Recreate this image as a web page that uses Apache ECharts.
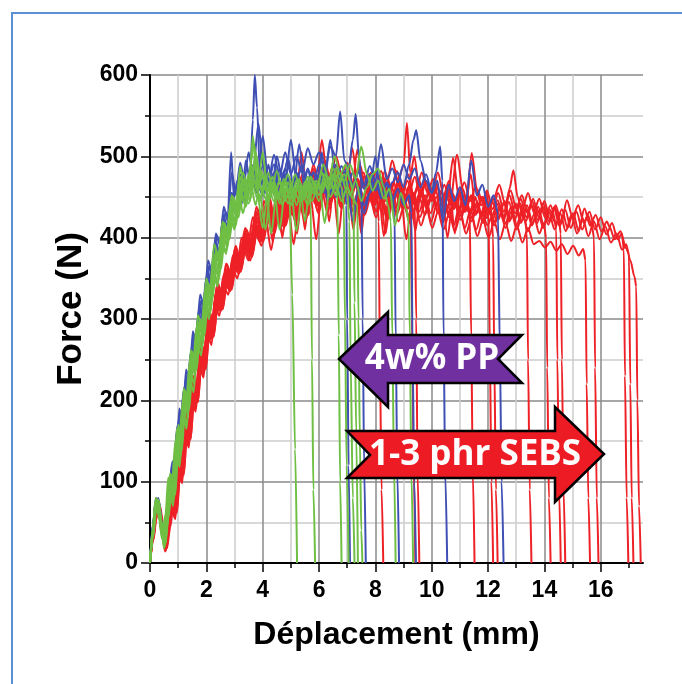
<!DOCTYPE html>
<html>
<head>
<meta charset="utf-8">
<script src="https://cdn.jsdelivr.net/npm/echarts@6/dist/echarts.min.js"></script>
<style>
html, body { margin: 0; background: #fff; }
#chart { width: 682px; height: 684px; }
</style>
</head>
<body>
<div id="chart"></div>
<script>
// tick positions
const xMinorTicks = [0, 1, 2, 3, 4, 5, 6, 7, 8, 9, 10, 11, 12, 13, 14, 15, 16, 17];
const xMajorTicks = [0, 2, 4, 6, 8, 10, 12, 14, 16];
const yMinorTicks = [0, 50, 100, 150, 200, 250, 300, 350, 400, 450, 500, 550, 600];
const yMajorTicks = [0, 100, 200, 300, 400, 500, 600];

// force (N) vs displacement (mm)
const redCurves = [
  [[0,0],[0.1,32],[0.2,60],[0.3,70],[0.42,42],[0.54,18],[0.66,40],[0.78,72],[0.9,60],[1.02,120],[1.14,105],[1.26,165],[1.38,150],[1.5,210],[1.62,195],[1.76,255],[1.9,240],[2.04,295],[2.18,280],[2.32,330],[2.46,318],[2.62,355],[2.78,342],[2.94,378],[3.1,362],[3.3,395],[3.5,380],[3.7,420],[3.9,400],[4.1,440],[4.3,415],[4.5,455],[4.7,400],[4.9,465],[5.1,440],[5.3,475],[5.5,410],[5.7,480],[5.9,455],[6.1,520],[6.3,470],[6.5,488],[6.7,462],[6.9,478],[7.1,450],[7.3,470],[7.5,405],[7.7,465],[7.9,440],[8.05,455],[8.12,420],[8.16,250],[8.22,90],[8.28,0]],
  [[0,0],[0.1,36],[0.22,66],[0.34,58],[0.46,28],[0.58,22],[0.7,58],[0.82,88],[0.94,75],[1.06,138],[1.18,122],[1.3,182],[1.42,168],[1.56,228],[1.68,212],[1.82,270],[1.96,255],[2.1,310],[2.24,296],[2.4,345],[2.56,330],[2.72,368],[2.88,352],[3.04,390],[3.2,372],[3.4,405],[3.6,388],[3.8,430],[4.0,408],[4.2,448],[4.4,420],[4.6,460],[4.8,432],[5.0,470],[5.2,445],[5.4,478],[5.6,455],[5.8,490],[6.0,465],[6.2,495],[6.4,472],[6.6,500],[6.8,478],[7.0,492],[7.2,468],[7.4,485],[7.6,460],[7.8,478],[8.0,455],[8.2,482],[8.4,465],[8.6,495],[8.8,470],[9.0,488],[9.12,541],[9.24,480],[9.3,300],[9.36,120],[9.42,0]],
  [[0,0],[0.1,30],[0.2,56],[0.3,64],[0.42,36],[0.54,14],[0.66,36],[0.78,66],[0.9,54],[1.02,112],[1.14,98],[1.26,155],[1.38,142],[1.5,200],[1.62,186],[1.76,242],[1.9,228],[2.04,282],[2.18,268],[2.32,315],[2.46,304],[2.62,340],[2.78,330],[2.94,362],[3.1,350],[3.3,388],[3.5,372],[3.7,410],[3.9,395],[4.1,425],[4.3,385],[4.5,430],[4.7,405],[4.9,440],[5.1,392],[5.3,445],[5.5,418],[5.7,450],[5.9,398],[6.1,458],[6.3,430],[6.5,462],[6.7,405],[6.9,470],[7.1,445],[7.3,478],[7.5,415],[7.7,470],[7.9,448],[8.1,465],[8.3,402],[8.5,458],[8.7,435],[8.9,452],[9.1,398],[9.3,448],[9.4,440],[9.45,300],[9.5,110],[9.56,0]],
  [[0,0],[0.1,30],[0.2,58],[0.3,72],[0.4,50],[0.52,20],[0.64,35],[0.76,68],[0.88,56],[1.0,115],[1.12,100],[1.24,158],[1.36,145],[1.48,205],[1.6,190],[1.74,248],[1.88,232],[2.02,288],[2.16,275],[2.3,322],[2.44,310],[2.6,350],[2.76,338],[2.92,372],[3.08,358],[3.25,400],[3.45,382],[3.65,425],[3.85,405],[4.05,445],[4.25,418],[4.45,438],[4.65,412],[4.85,450],[5.05,428],[5.25,462],[5.45,435],[5.65,470],[5.85,442],[6.05,475],[6.25,450],[6.45,482],[6.65,458],[6.85,475],[7.05,448],[7.25,468],[7.45,490],[7.65,462],[7.85,480],[8.05,455],[8.25,472],[8.45,448],[8.65,468],[8.85,442],[9.05,462],[9.25,438],[9.45,458],[9.65,480],[9.85,455],[10.05,472],[10.25,448],[10.45,465],[10.65,440],[10.9,502],[11.1,460],[11.25,445],[11.35,430],[11.4,280],[11.46,110],[11.52,0]],
  [[0,0],[0.12,34],[0.24,64],[0.36,62],[0.48,30],[0.6,28],[0.72,62],[0.84,80],[0.96,70],[1.08,132],[1.2,118],[1.32,175],[1.44,160],[1.58,222],[1.7,208],[1.84,262],[1.98,248],[2.12,302],[2.26,290],[2.42,338],[2.58,325],[2.74,362],[2.9,348],[3.06,385],[3.22,370],[3.42,410],[3.62,392],[3.82,435],[4.02,412],[4.22,452],[4.42,425],[4.62,462],[4.82,435],[5.02,455],[5.22,405],[5.42,468],[5.62,445],[5.82,478],[6.02,452],[6.22,485],[6.42,460],[6.62,478],[6.82,452],[7.02,470],[7.22,410],[7.42,465],[7.62,440],[7.82,462],[8.02,480],[8.22,455],[8.42,475],[8.62,450],[8.82,470],[9.02,445],[9.22,465],[9.42,408],[9.62,460],[9.82,438],[10.02,455],[10.22,480],[10.42,452],[10.62,470],[10.82,405],[11.02,462],[11.22,438],[11.42,504],[11.6,460],[11.8,445],[11.95,455],[12.02,430],[12.06,270],[12.12,100],[12.18,0]],
  [[0,0],[0.1,28],[0.2,55],[0.32,68],[0.44,45],[0.56,15],[0.68,45],[0.8,75],[0.92,62],[1.04,125],[1.16,110],[1.28,170],[1.4,155],[1.54,215],[1.66,200],[1.8,258],[1.94,244],[2.08,298],[2.22,284],[2.38,328],[2.54,315],[2.7,352],[2.86,340],[3.02,375],[3.18,362],[3.38,398],[3.58,380],[3.78,412],[3.98,395],[4.18,430],[4.38,408],[4.58,445],[4.78,420],[4.98,452],[5.18,428],[5.38,460],[5.58,435],[5.78,455],[5.98,430],[6.18,462],[6.38,440],[6.58,470],[6.78,445],[6.98,478],[7.18,455],[7.38,472],[7.58,448],[7.78,465],[7.98,440],[8.18,460],[8.38,435],[8.58,455],[8.78,430],[8.98,450],[9.18,428],[9.38,448],[9.58,425],[9.78,445],[9.98,420],[10.18,442],[10.38,418],[10.58,440],[10.78,415],[10.98,438],[11.18,412],[11.38,435],[11.58,410],[11.78,432],[11.98,415],[12.12,425],[12.18,400],[12.22,250],[12.28,90],[12.34,0]],
  [[0,0],[0.1,34],[0.2,62],[0.3,74],[0.42,48],[0.54,24],[0.66,52],[0.78,84],[0.9,70],[1.02,128],[1.14,112],[1.26,172],[1.38,158],[1.52,218],[1.64,204],[1.78,262],[1.92,248],[2.06,304],[2.2,290],[2.36,336],[2.52,322],[2.68,360],[2.84,346],[3.0,382],[3.16,368],[3.36,405],[3.56,388],[3.76,428],[3.96,405],[4.16,438],[4.36,395],[4.56,448],[4.76,422],[4.96,458],[5.16,432],[5.36,465],[5.56,440],[5.76,472],[5.96,448],[6.16,480],[6.36,420],[6.56,488],[6.76,462],[6.96,480],[7.16,455],[7.36,472],[7.56,450],[7.76,468],[7.96,445],[8.16,462],[8.36,405],[8.56,458],[8.76,482],[8.96,460],[9.16,478],[9.36,452],[9.56,470],[9.76,445],[9.96,462],[10.16,438],[10.36,458],[10.56,400],[10.76,452],[10.96,430],[11.16,450],[11.36,428],[11.56,448],[11.76,425],[11.96,445],[12.16,422],[12.36,442],[12.56,420],[12.76,460],[12.9,483],[13.05,450],[13.2,430],[13.32,420],[13.38,405],[13.42,250],[13.48,90],[13.54,0]],
  [[0,0],[0.12,30],[0.24,62],[0.36,66],[0.48,36],[0.6,20],[0.72,55],[0.84,78],[0.96,66],[1.08,125],[1.2,110],[1.32,168],[1.44,152],[1.58,212],[1.7,198],[1.84,255],[1.98,240],[2.12,292],[2.26,280],[2.42,325],[2.58,312],[2.74,350],[2.9,338],[3.06,372],[3.22,360],[3.42,392],[3.62,378],[3.82,415],[4.02,398],[4.22,432],[4.42,410],[4.62,440],[4.82,418],[5.02,448],[5.22,425],[5.42,455],[5.62,430],[5.82,462],[6.02,438],[6.22,470],[6.42,445],[6.62,478],[6.82,450],[7.02,468],[7.22,442],[7.42,460],[7.62,438],[7.82,455],[8.02,432],[8.22,450],[8.42,428],[8.62,445],[8.82,468],[9.02,445],[9.22,462],[9.42,440],[9.62,458],[9.82,435],[10.02,452],[10.22,430],[10.42,448],[10.62,425],[10.82,445],[11.02,422],[11.22,442],[11.42,420],[11.62,440],[11.82,418],[12.02,438],[12.22,415],[12.42,435],[12.62,412],[12.82,432],[13.02,410],[13.22,430],[13.42,408],[13.62,428],[13.82,405],[13.98,418],[14.06,400],[14.1,240],[14.16,80],[14.22,0]],
  [[0,0],[0.1,38],[0.2,64],[0.32,60],[0.44,32],[0.56,26],[0.68,62],[0.8,90],[0.92,78],[1.04,140],[1.16,124],[1.28,185],[1.4,170],[1.54,230],[1.66,216],[1.8,272],[1.94,258],[2.08,312],[2.22,298],[2.38,342],[2.54,330],[2.7,368],[2.86,354],[3.02,388],[3.18,375],[3.38,412],[3.58,395],[3.78,438],[3.98,415],[4.18,452],[4.38,428],[4.58,465],[4.78,438],[4.98,472],[5.18,445],[5.38,505],[5.58,452],[5.78,485],[5.98,460],[6.18,478],[6.38,452],[6.58,470],[6.78,448],[6.98,465],[7.18,510],[7.38,462],[7.58,480],[7.78,455],[7.98,472],[8.18,448],[8.38,468],[8.58,445],[8.78,462],[8.98,440],[9.18,458],[9.38,500],[9.58,452],[9.78,470],[9.98,445],[10.18,465],[10.38,440],[10.58,458],[10.78,435],[10.98,455],[11.18,432],[11.38,478],[11.58,430],[11.78,450],[11.98,428],[12.18,448],[12.38,425],[12.58,445],[12.78,422],[12.98,442],[13.18,420],[13.38,440],[13.58,418],[13.78,438],[13.98,415],[14.18,435],[14.36,420],[14.42,410],[14.46,250],[14.52,90],[14.58,0]],
  [[0,0],[0.1,26],[0.2,52],[0.3,66],[0.42,52],[0.54,22],[0.66,38],[0.78,70],[0.9,58],[1.02,118],[1.14,104],[1.26,162],[1.38,148],[1.52,208],[1.64,194],[1.78,250],[1.92,236],[2.06,290],[2.2,276],[2.36,322],[2.52,310],[2.68,346],[2.84,334],[3.0,368],[3.16,356],[3.36,388],[3.56,372],[3.76,408],[3.96,390],[4.16,425],[4.36,402],[4.56,435],[4.76,412],[4.96,442],[5.16,420],[5.36,450],[5.56,425],[5.76,458],[5.96,432],[6.16,465],[6.36,440],[6.56,472],[6.76,448],[6.96,480],[7.16,455],[7.36,508],[7.56,462],[7.76,478],[7.96,452],[8.16,470],[8.36,445],[8.56,465],[8.76,440],[8.96,460],[9.16,436],[9.36,455],[9.56,432],[9.76,452],[9.96,430],[10.16,450],[10.36,428],[10.56,448],[10.76,498],[10.96,450],[11.16,468],[11.36,445],[11.56,462],[11.76,440],[11.96,458],[12.16,435],[12.36,455],[12.56,432],[12.76,452],[12.96,430],[13.16,448],[13.36,425],[13.56,445],[13.76,422],[13.96,442],[14.16,420],[14.36,438],[14.52,422],[14.58,405],[14.62,250],[14.68,90],[14.74,0]],
  [[0,0],[0.12,36],[0.24,66],[0.36,60],[0.48,30],[0.6,24],[0.72,58],[0.84,86],[0.96,72],[1.08,135],[1.2,120],[1.32,178],[1.44,164],[1.58,224],[1.7,210],[1.84,266],[1.98,252],[2.12,305],[2.26,292],[2.42,335],[2.58,322],[2.74,358],[2.9,346],[3.06,380],[3.22,366],[3.42,402],[3.62,385],[3.82,420],[4.02,402],[4.22,435],[4.42,412],[4.62,445],[4.82,420],[5.02,450],[5.22,428],[5.42,458],[5.62,432],[5.82,462],[6.02,440],[6.22,470],[6.42,445],[6.62,462],[6.82,438],[7.02,455],[7.22,432],[7.42,452],[7.62,428],[7.82,448],[8.02,425],[8.22,445],[8.42,422],[8.62,442],[8.82,420],[9.02,440],[9.22,418],[9.42,438],[9.62,415],[9.82,435],[10.02,412],[10.22,432],[10.42,410],[10.62,430],[10.82,408],[11.02,428],[11.22,405],[11.42,425],[11.62,402],[11.82,422],[12.02,400],[12.22,420],[12.42,398],[12.62,418],[12.82,396],[13.02,415],[13.22,394],[13.42,412],[13.62,392],[13.82,396],[14.02,388],[14.22,395],[14.42,384],[14.62,392],[14.82,380],[15.02,390],[15.22,378],[15.38,386],[15.46,372],[15.5,220],[15.56,80],[15.62,0]],
  [[0,0],[0.1,32],[0.2,60],[0.3,70],[0.4,46],[0.52,20],[0.64,42],[0.76,76],[0.88,64],[1.0,124],[1.12,108],[1.24,168],[1.36,154],[1.5,214],[1.62,200],[1.76,256],[1.9,242],[2.04,296],[2.18,282],[2.34,330],[2.5,316],[2.66,354],[2.82,340],[2.98,376],[3.14,362],[3.34,398],[3.54,380],[3.74,418],[3.94,398],[4.14,432],[4.34,410],[4.54,445],[4.74,422],[4.94,455],[5.14,430],[5.34,462],[5.54,438],[5.74,470],[5.94,445],[6.14,478],[6.34,452],[6.54,485],[6.74,460],[6.94,475],[7.14,450],[7.34,468],[7.54,445],[7.74,462],[7.94,440],[8.14,458],[8.34,482],[8.54,458],[8.74,475],[8.94,452],[9.14,470],[9.34,448],[9.54,465],[9.74,442],[9.94,462],[10.14,440],[10.34,458],[10.54,435],[10.74,455],[10.94,432],[11.14,452],[11.34,430],[11.54,450],[11.74,428],[11.94,448],[12.14,426],[12.34,446],[12.54,424],[12.74,444],[12.94,422],[13.14,442],[13.34,420],[13.54,440],[13.74,418],[13.94,438],[14.14,416],[14.34,436],[14.54,414],[14.74,434],[14.94,412],[15.14,432],[15.34,410],[15.54,428],[15.7,412],[15.76,400],[15.8,240],[15.86,80],[15.92,0]],
  [[0,0],[0.1,35],[0.22,64],[0.34,68],[0.46,40],[0.58,20],[0.7,50],[0.82,80],[0.94,68],[1.06,130],[1.18,115],[1.3,175],[1.42,160],[1.56,220],[1.68,206],[1.82,262],[1.96,248],[2.1,300],[2.24,288],[2.4,332],[2.56,320],[2.72,356],[2.88,344],[3.04,378],[3.2,365],[3.4,400],[3.6,385],[3.8,422],[4.0,402],[4.2,440],[4.4,415],[4.6,452],[4.8,428],[5.0,462],[5.2,438],[5.4,472],[5.6,446],[5.8,478],[6.0,452],[6.2,468],[6.4,442],[6.6,460],[6.8,436],[7.0,455],[7.2,480],[7.4,458],[7.6,475],[7.8,450],[8.0,468],[8.2,445],[8.4,462],[8.6,440],[8.8,458],[9.0,436],[9.2,455],[9.4,475],[9.6,450],[9.8,468],[10.0,445],[10.2,462],[10.4,440],[10.6,458],[10.8,436],[11.0,455],[11.2,432],[11.4,452],[11.6,430],[11.8,450],[12.0,428],[12.2,448],[12.4,465],[12.6,442],[12.8,458],[13.0,436],[13.2,452],[13.4,430],[13.6,448],[13.8,425],[14.0,445],[14.2,422],[14.4,440],[14.6,418],[14.8,446],[15.0,425],[15.2,440],[15.4,418],[15.6,432],[15.8,410],[16.0,425],[16.2,404],[16.4,418],[16.6,398],[16.75,405],[16.82,385],[16.86,230],[16.92,80],[16.98,0]],
  [[0,0],[0.12,28],[0.24,58],[0.36,70],[0.48,44],[0.6,18],[0.72,44],[0.84,74],[0.96,62],[1.08,122],[1.2,108],[1.32,166],[1.44,152],[1.58,212],[1.7,198],[1.84,252],[1.98,238],[2.12,292],[2.26,278],[2.42,324],[2.58,312],[2.74,348],[2.9,336],[3.06,370],[3.22,358],[3.42,392],[3.62,376],[3.82,412],[4.02,395],[4.22,428],[4.42,405],[4.62,438],[4.82,415],[5.02,445],[5.22,422],[5.42,452],[5.62,428],[5.82,458],[6.02,435],[6.22,465],[6.42,442],[6.62,472],[6.82,448],[7.02,465],[7.22,440],[7.42,458],[7.62,435],[7.82,455],[8.02,432],[8.22,452],[8.42,430],[8.62,450],[8.82,472],[9.02,448],[9.22,465],[9.42,442],[9.62,460],[9.82,438],[10.02,456],[10.22,434],[10.42,452],[10.62,430],[10.82,448],[11.02,428],[11.22,446],[11.42,425],[11.62,444],[11.82,422],[12.02,442],[12.22,420],[12.42,440],[12.62,418],[12.82,438],[13.02,416],[13.22,436],[13.42,455],[13.62,432],[13.82,448],[14.02,425],[14.22,440],[14.42,418],[14.62,435],[14.82,412],[15.02,430],[15.22,408],[15.42,436],[15.62,415],[15.82,428],[16.02,408],[16.22,420],[16.3,414],[16.5,398],[16.7,408],[16.9,387],[17.0,380],[17.05,220],[17.1,80],[17.16,0]],
  [[0,0],[0.1,33],[0.2,62],[0.3,72],[0.42,46],[0.54,16],[0.66,42],[0.78,72],[0.9,60],[1.02,122],[1.14,106],[1.26,165],[1.38,150],[1.52,210],[1.64,196],[1.78,252],[1.92,238],[2.06,290],[2.2,277],[2.36,322],[2.52,310],[2.68,346],[2.84,335],[3.0,368],[3.16,356],[3.36,395],[3.56,378],[3.76,415],[3.96,398],[4.16,432],[4.36,408],[4.56,442],[4.76,418],[4.96,450],[5.16,425],[5.36,456],[5.56,432],[5.76,462],[5.96,440],[6.16,470],[6.36,445],[6.56,462],[6.76,438],[6.96,456],[7.16,432],[7.36,452],[7.56,430],[7.76,448],[7.96,470],[8.16,446],[8.36,462],[8.56,440],[8.76,458],[8.96,436],[9.16,454],[9.36,432],[9.56,450],[9.76,428],[9.96,448],[10.16,468],[10.36,444],[10.56,460],[10.76,438],[10.96,455],[11.16,432],[11.36,450],[11.56,428],[11.76,446],[11.96,424],[12.16,444],[12.36,422],[12.56,442],[12.76,420],[12.96,440],[13.16,418],[13.36,436],[13.56,415],[13.76,434],[13.96,412],[14.16,432],[14.36,410],[14.56,430],[14.76,408],[14.96,428],[15.16,405],[15.36,424],[15.56,402],[15.76,420],[15.96,398],[16.16,414],[16.36,394],[16.56,405],[16.76,385],[16.9,392],[17.05,372],[17.2,352],[17.26,340],[17.3,200],[17.36,70],[17.42,0]]
];

const blueCurves = [
  [[0,0],[0.1,45],[0.2,78],[0.3,72],[0.42,40],[0.54,30],[0.66,78],[0.78,118],[0.9,100],[1.02,178],[1.14,160],[1.26,225],[1.38,210],[1.5,272],[1.62,258],[1.76,318],[1.9,302],[2.04,360],[2.18,345],[2.32,398],[2.46,382],[2.6,428],[2.74,412],[2.88,505],[2.98,450],[3.1,470],[3.25,440],[3.4,495],[3.55,470],[3.65,545],[3.72,600],[3.8,560],[3.9,480],[4.05,455],[4.2,490],[4.35,465],[4.5,500],[4.7,470],[4.9,498],[5.1,462],[5.3,515],[5.5,455],[5.7,478],[5.9,450],[6.1,505],[6.3,445],[6.5,468],[6.7,452],[6.9,470],[6.97,440],[7.0,300],[7.05,120],[7.1,0]],
  [[0,0],[0.12,50],[0.22,80],[0.32,66],[0.44,35],[0.56,48],[0.68,95],[0.8,125],[0.92,110],[1.04,190],[1.16,172],[1.28,238],[1.4,222],[1.52,285],[1.64,270],[1.78,330],[1.92,315],[2.06,372],[2.2,358],[2.34,405],[2.48,392],[2.62,438],[2.76,420],[2.9,480],[3.05,455],[3.2,492],[3.35,470],[3.5,505],[3.65,478],[3.85,540],[4.0,490],[4.2,468],[4.4,502],[4.6,475],[4.8,505],[5.0,478],[5.2,500],[5.4,480],[5.6,510],[5.8,490],[6.0,505],[6.2,482],[6.4,512],[6.6,500],[6.75,555],[6.9,495],[7.05,485],[7.2,520],[7.3,552],[7.42,500],[7.5,470],[7.55,300],[7.6,120],[7.66,0]],
  [[0,0],[0.1,40],[0.2,75],[0.3,80],[0.4,52],[0.52,28],[0.64,70],[0.76,112],[0.88,96],[1.0,172],[1.12,156],[1.24,220],[1.36,205],[1.5,268],[1.62,252],[1.76,312],[1.9,298],[2.04,355],[2.18,340],[2.32,392],[2.46,378],[2.6,425],[2.75,408],[2.9,455],[3.05,438],[3.2,465],[3.4,445],[3.6,480],[3.8,462],[4.0,525],[4.2,470],[4.4,490],[4.6,462],[4.8,485],[5.0,460],[5.2,478],[5.4,455],[5.6,482],[5.8,465],[6.0,490],[6.2,470],[6.4,520],[6.6,472],[6.8,488],[7.0,465],[7.2,480],[7.4,458],[7.6,430],[7.8,455],[8.0,470],[8.2,450],[8.4,468],[8.6,452],[8.68,430],[8.72,280],[8.78,110],[8.84,0]],
  [[0,0],[0.1,48],[0.22,76],[0.34,62],[0.46,34],[0.58,58],[0.7,102],[0.82,88],[0.94,160],[1.06,145],[1.18,210],[1.3,195],[1.44,258],[1.56,242],[1.7,302],[1.84,288],[1.98,348],[2.12,332],[2.28,388],[2.42,372],[2.58,420],[2.72,405],[2.88,448],[3.02,430],[3.2,478],[3.4,455],[3.6,490],[3.8,470],[4.0,452],[4.2,478],[4.4,455],[4.6,485],[4.8,468],[5.0,520],[5.2,470],[5.4,488],[5.6,462],[5.8,480],[6.0,458],[6.2,478],[6.4,455],[6.6,472],[6.8,450],[7.0,468],[7.2,420],[7.4,462],[7.6,440],[7.8,455],[8.0,500],[8.2,448],[8.4,465],[8.6,445],[8.8,460],[9.0,440],[9.2,452],[9.28,430],[9.32,260],[9.38,100],[9.44,0]],
  [[0,0],[0.1,42],[0.2,72],[0.32,76],[0.44,44],[0.56,36],[0.68,84],[0.8,118],[0.92,102],[1.04,182],[1.16,165],[1.28,230],[1.4,214],[1.54,278],[1.66,262],[1.8,322],[1.94,306],[2.08,365],[2.22,350],[2.38,402],[2.52,388],[2.68,432],[2.84,416],[3.0,452],[3.2,470],[3.4,450],[3.6,482],[3.8,460],[4.0,488],[4.2,462],[4.4,480],[4.6,455],[4.8,475],[5.0,452],[5.2,470],[5.4,448],[5.6,466],[5.8,480],[6.0,462],[6.2,485],[6.4,468],[6.6,490],[6.8,470],[7.0,486],[7.2,465],[7.4,480],[7.6,460],[7.8,478],[8.0,458],[8.2,472],[8.4,450],[8.6,468],[8.8,480],[9.0,462],[9.2,490],[9.35,520],[9.45,532],[9.6,495],[9.8,470],[10.0,455],[10.15,480],[10.3,512],[10.38,470],[10.42,280],[10.48,110],[10.55,0]],
  [[0,0],[0.12,46],[0.24,74],[0.36,58],[0.48,32],[0.6,64],[0.72,106],[0.84,92],[0.96,168],[1.08,150],[1.2,215],[1.32,200],[1.46,262],[1.58,248],[1.72,308],[1.86,292],[2.0,352],[2.14,338],[2.3,392],[2.44,378],[2.6,425],[2.74,410],[2.9,455],[3.05,435],[3.2,468],[3.4,445],[3.6,475],[3.8,455],[4.0,470],[4.2,448],[4.4,472],[4.6,450],[4.8,478],[5.0,458],[5.2,480],[5.4,462],[5.6,485],[5.8,465],[6.0,478],[6.2,455],[6.4,472],[6.6,450],[6.8,468],[7.0,478],[7.2,460],[7.4,482],[7.6,465],[7.8,488],[8.0,470],[8.2,515],[8.4,472],[8.6,485],[8.8,468],[9.0,490],[9.2,472],[9.4,485],[9.6,462],[9.8,478],[10.0,455],[10.2,470],[10.4,420],[10.6,465],[10.8,445],[11.0,462],[11.2,440],[11.4,495],[11.6,452],[11.8,465],[12.0,438],[12.2,452],[12.35,430],[12.42,260],[12.48,100],[12.55,0]]
];

const greenCurves = [
  [[0,0],[0.1,38],[0.2,74],[0.3,66],[0.42,30],[0.55,60],[0.65,105],[0.75,80],[0.9,150],[1.0,130],[1.15,195],[1.25,180],[1.4,245],[1.5,228],[1.65,290],[1.8,272],[1.95,335],[2.1,318],[2.25,372],[2.4,355],[2.55,405],[2.7,392],[2.85,440],[3.0,420],[3.15,468],[3.3,445],[3.5,478],[3.7,515],[3.85,462],[4.0,478],[4.2,448],[4.4,470],[4.6,442],[4.8,466],[4.95,452],[5.05,330],[5.15,140],[5.22,0]],
  [[0,0],[0.12,45],[0.22,70],[0.35,52],[0.5,28],[0.6,70],[0.72,110],[0.85,95],[0.95,165],[1.08,148],[1.2,215],[1.32,198],[1.45,262],[1.58,245],[1.7,305],[1.85,288],[2.0,350],[2.12,332],[2.28,392],[2.42,378],[2.58,420],[2.72,402],[2.9,452],[3.05,432],[3.2,488],[3.35,455],[3.55,470],[3.75,440],[3.95,482],[4.15,455],[4.35,475],[4.55,448],[4.8,470],[5.0,440],[5.2,462],[5.4,445],[5.6,468],[5.7,450],[5.75,250],[5.8,90],[5.86,0]],
  [[0,0],[0.08,30],[0.18,62],[0.28,78],[0.38,48],[0.5,18],[0.62,48],[0.72,85],[0.82,70],[0.95,135],[1.05,118],[1.18,178],[1.3,165],[1.42,225],[1.55,210],[1.68,270],[1.82,255],[1.95,315],[2.1,300],[2.25,355],[2.4,340],[2.55,395],[2.7,380],[2.85,425],[3.0,410],[3.15,455],[3.3,430],[3.5,465],[3.7,490],[3.9,445],[4.1,470],[4.3,405],[4.5,458],[4.7,440],[4.9,468],[5.1,445],[5.3,472],[5.5,420],[5.7,475],[5.9,455],[6.1,480],[6.3,460],[6.5,478],[6.65,455],[6.7,280],[6.75,100],[6.8,0]],
  [[0,0],[0.1,42],[0.2,80],[0.3,70],[0.45,35],[0.55,25],[0.68,75],[0.8,100],[0.9,88],[1.0,160],[1.12,145],[1.25,205],[1.38,190],[1.5,255],[1.62,238],[1.78,300],[1.9,285],[2.05,345],[2.2,330],[2.35,380],[2.5,365],[2.65,415],[2.8,398],[2.95,448],[3.1,428],[3.3,472],[3.5,450],[3.65,525],[3.8,470],[4.0,455],[4.2,480],[4.4,452],[4.6,470],[4.8,445],[5.0,465],[5.2,440],[5.4,462],[5.6,448],[5.8,470],[6.0,452],[6.2,478],[6.4,460],[6.6,485],[6.8,462],[6.88,440],[6.92,300],[6.98,120],[7.05,0]],
  [[0,0],[0.1,30],[0.2,65],[0.32,75],[0.42,45],[0.52,20],[0.64,55],[0.76,95],[0.86,80],[0.98,150],[1.1,132],[1.22,200],[1.35,182],[1.48,248],[1.6,232],[1.74,282],[1.88,270],[2.02,325],[2.16,310],[2.3,365],[2.45,350],[2.6,400],[2.75,388],[2.9,432],[3.05,415],[3.2,460],[3.4,438],[3.6,470],[3.8,450],[4.0,505],[4.2,445],[4.4,462],[4.6,410],[4.8,460],[5.0,448],[5.2,470],[5.4,452],[5.6,475],[5.8,455],[6.0,470],[6.2,418],[6.4,468],[6.6,452],[6.8,475],[7.0,455],[7.08,420],[7.12,250],[7.2,80],[7.26,0]],
  [[0,0],[0.1,40],[0.22,68],[0.34,60],[0.46,30],[0.58,45],[0.7,92],[0.82,78],[0.94,145],[1.06,128],[1.18,185],[1.3,170],[1.44,235],[1.56,220],[1.7,280],[1.84,262],[1.98,322],[2.12,305],[2.26,360],[2.4,345],[2.56,398],[2.7,382],[2.86,430],[3.0,412],[3.16,450],[3.35,470],[3.55,445],[3.75,505],[3.95,460],[4.15,445],[4.35,468],[4.55,450],[4.75,472],[4.95,455],[5.15,478],[5.35,458],[5.55,470],[5.75,445],[5.95,465],[6.15,490],[6.35,470],[6.55,500],[6.75,478],[6.95,490],[7.1,470],[7.22,455],[7.26,320],[7.32,160],[7.38,0]],
  [[0,0],[0.12,35],[0.24,72],[0.36,58],[0.48,25],[0.6,62],[0.72,100],[0.84,86],[0.96,155],[1.08,138],[1.2,202],[1.32,188],[1.46,250],[1.58,236],[1.72,295],[1.86,280],[2.0,338],[2.14,322],[2.3,378],[2.44,360],[2.6,412],[2.74,395],[2.9,445],[3.05,428],[3.2,475],[3.4,452],[3.6,488],[3.8,458],[4.0,412],[4.2,462],[4.4,445],[4.6,470],[4.8,448],[5.0,458],[5.2,408],[5.4,455],[5.6,440],[5.8,462],[6.0,445],[6.2,470],[6.4,450],[6.6,465],[6.8,445],[7.0,462],[7.2,448],[7.36,440],[7.4,300],[7.45,150],[7.5,40],[7.54,0]],
  [[0,0],[0.1,44],[0.2,76],[0.3,64],[0.4,38],[0.52,26],[0.64,68],[0.76,108],[0.88,92],[1.0,170],[1.12,152],[1.24,212],[1.36,198],[1.5,260],[1.62,244],[1.76,300],[1.9,285],[2.04,342],[2.18,328],[2.34,385],[2.48,368],[2.64,418],[2.8,402],[2.96,450],[3.1,432],[3.3,480],[3.5,455],[3.7,470],[3.9,448],[4.1,475],[4.3,455],[4.5,482],[4.7,460],[4.9,478],[5.1,455],[5.3,470],[5.5,450],[5.7,475],[5.9,458],[6.1,480],[6.3,462],[6.5,485],[6.7,465],[6.9,478],[7.1,452],[7.3,470],[7.5,445],[7.7,462],[7.9,478],[8.1,485],[8.3,462],[8.45,440],[8.55,420],[8.6,280],[8.66,120],[8.72,0]],
  [[0,0],[0.1,36],[0.2,70],[0.3,78],[0.42,50],[0.54,22],[0.66,58],[0.78,96],[0.9,84],[1.02,155],[1.14,140],[1.26,205],[1.4,190],[1.52,252],[1.66,238],[1.8,296],[1.94,280],[2.08,340],[2.22,325],[2.38,378],[2.52,362],[2.68,412],[2.82,398],[2.98,440],[3.14,425],[3.3,462],[3.5,442],[3.7,470],[3.9,452],[4.1,410],[4.3,465],[4.5,448],[4.7,465],[4.9,442],[5.1,460],[5.3,445],[5.5,468],[5.7,452],[5.9,470],[6.1,455],[6.3,475],[6.5,462],[6.7,480],[6.9,470],[7.1,490],[7.3,472],[7.5,512],[7.7,478],[7.9,458],[8.1,470],[8.3,448],[8.5,460],[8.7,415],[8.9,455],[9.1,435],[9.18,420],[9.22,280],[9.28,110],[9.34,0]]
];

const chart = echarts.init(document.getElementById('chart'));

const axisFont = { fontFamily: 'Liberation Sans, Arial, sans-serif', fontWeight: 'bold', color: '#000' };

function curveSeries(curves, color) {
  return curves.map(function (pts) {
    return {
      type: 'line',
      data: pts,
      showSymbol: false,
      smooth: 0.3,
      smoothMonotone: 'x',
      lineStyle: { color: color, width: 2 },
      emphasis: { disabled: true },
      silent: true
    };
  });
}

const series = []
  .concat(curveSeries(redCurves, '#ee2127'))
  .concat(curveSeries(blueCurves, '#3f4fb4'))
  .concat(curveSeries(greenCurves, '#6fbf44'));

const option = {
  animation: false,
  backgroundColor: '#fff',
  grid: { left: 150, top: 75, width: 493, height: 488 },
  xAxis: [{
    type: 'value', min: 0, max: 17.5, interval: 1,
    name: 'Déplacement (mm)', nameLocation: 'middle', nameGap: 56,
    nameTextStyle: Object.assign({ fontSize: 32 }, axisFont),
    axisLine: { lineStyle: { color: '#000', width: 2 } },
    axisTick: { length: 5, lineStyle: { color: '#000', width: 1.5 }, customValues: xMinorTicks },
    axisLabel: Object.assign({ fontSize: 23, margin: 16, customValues: xMajorTicks }, axisFont),
    splitLine: { show: true, showMaxLine: false, lineStyle: { color: ['#8a8a8a', '#cdcdcd'], width: 1.5 } }
  }, {
    type: 'value', min: 0, max: 17.5, interval: 2, position: 'bottom',
    axisLine: { show: false },
    axisTick: { length: 9, lineStyle: { color: '#000', width: 1.5 }, customValues: xMajorTicks },
    axisLabel: { show: false },
    splitLine: { show: false }
  }],
  yAxis: [{
    type: 'value', min: 0, max: 600, interval: 50,
    name: 'Force (N)', nameLocation: 'middle', nameGap: 41,
    nameTextStyle: Object.assign({ fontSize: 35, padding: [0, 0, 0, 20] }, axisFont),
    axisLine: { lineStyle: { color: '#000', width: 2 } },
    axisTick: { length: 5, lineStyle: { color: '#000', width: 1.5 }, customValues: yMinorTicks },
    axisLabel: Object.assign({ fontSize: 23, margin: 12, customValues: yMajorTicks }, axisFont),
    splitLine: { show: true, lineStyle: { color: ['#8a8a8a', '#cdcdcd'], width: 1.5 } }
  }, {
    type: 'value', min: 0, max: 600, interval: 100, position: 'left',
    axisLine: { show: false },
    axisTick: { length: 9, lineStyle: { color: '#000', width: 1.5 }, customValues: yMajorTicks },
    axisLabel: { show: false },
    splitLine: { show: false }
  }],
  graphic: [
    {
      type: 'rect', z: -10, silent: true,
      shape: { x: 12, y: 13, width: 720, height: 720 },
      style: { fill: 'none', stroke: '#5b8fd3', lineWidth: 2 }
    },
    {
      type: 'polygon', z: 100, silent: true,
      shape: { points: [[339, 359], [388, 312], [388, 335], [522, 335], [498, 359], [522, 383], [388, 383], [388, 407]] },
      style: { fill: '#7030a0', stroke: '#000', lineWidth: 2.5, lineJoin: 'miter' }
    },
    {
      type: 'text', z: 101, silent: true, x: 432, y: 359,
      style: { text: '4w% PP', fill: '#fff', font: 'bold 35px "Open Sans", sans-serif', align: 'center', verticalAlign: 'middle' }
    },
    {
      type: 'polygon', z: 100, silent: true,
      shape: { points: [[347, 431], [555, 431], [555, 407], [604, 454], [555, 502], [555, 478], [347, 478], [370, 455]] },
      style: { fill: '#ed1c24', stroke: '#000', lineWidth: 2.5, lineJoin: 'miter' }
    },
    {
      type: 'text', z: 101, silent: true, x: 475, y: 455,
      style: { text: '1-3 phr SEBS', fill: '#fff', font: 'bold 35px "Open Sans", sans-serif', align: 'center', verticalAlign: 'middle' }
    }
  ],
  series: series
};

chart.setOption(option);
</script>
</body>
</html>
